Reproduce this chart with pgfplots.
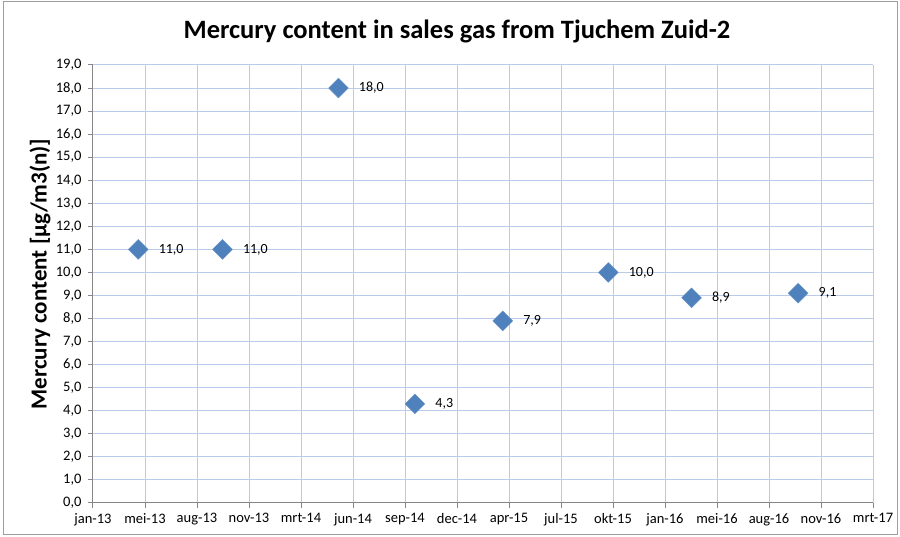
\documentclass[border=0pt]{standalone}
\usepackage{pgfplots}
\pgfplotsset{compat=1.18}
\usepackage{fontspec}
\setmainfont{Carlito}
\definecolor{ser}{RGB}{79,129,189}
\definecolor{gridc}{RGB}{185,203,232}
\definecolor{axc}{RGB}{134,134,134}
\begin{document}
\begin{tikzpicture}[x=1bp,y=1bp]
\path[use as bounding box] (-93,-34) rectangle (807,503);
\draw[color=axc!80, line width=1bp] (-89,-32) rectangle (804,501);
\node[font=\fontsize{26.5bp}{30bp}\selectfont\bfseries] at (364,472) {Mercury content in sales gas from Tjuchem Zuid-2};
\begin{axis}[at={(0,0)}, anchor=south west, scale only axis,
  width=780bp, height=438bp,
  xmin=0, xmax=15, ymin=0, ymax=19,
  xtick={0,...,15},
  xticklabels={jan-13,mei-13,aug-13,nov-13,mrt-14,jun-14,sep-14,dec-14,apr-15,jul-15,okt-15,jan-16,mei-16,aug-16,nov-16,mrt-17},
  ytick={0,...,19},
  /pgf/number format/.cd, use comma, fixed, fixed zerofill, precision=1, assume math mode=true, /pgfplots/.cd,
  ticklabel style={font=\fontsize{14.5bp}{17bp}\selectfont},
  xticklabel style={yshift=-2bp},
  yticklabel style={xshift=-3bp},
  axis lines=left,
  axis line style={-, color=axc, line width=1bp},
  tick align=outside,
  major tick length=5bp,
  every tick/.style={color=axc, line width=1bp},
  grid=major,
  major grid style={color=gridc, line width=1bp},
  clip=false,
  ylabel={Mercury content [µg/m3(n)]},
  every axis y label/.style={at={(-53bp,229bp)}, rotate=90, anchor=center, font=\fontsize{23bp}{26bp}\selectfont\bfseries},
]
\addplot[only marks, mark=square*, mark size=7bp,
  mark options={rotate=45, fill=ser, draw=ser!85!white},
  nodes near coords={\pgfmathprintnumber{\pgfplotspointmeta}},
  point meta=explicit,
  every node near coord/.append style={anchor=west, xshift=17bp, yshift=0bp, font=\fontsize{14bp}{16bp}\selectfont, text=black},
] table[meta=y] {
x y
0.87 11.0
2.49 11.0
4.72 18.0
6.19 4.3
7.88 7.9
9.91 10.0
11.51 8.9
13.56 9.1
};
\end{axis}
\end{tikzpicture}
\end{document}
